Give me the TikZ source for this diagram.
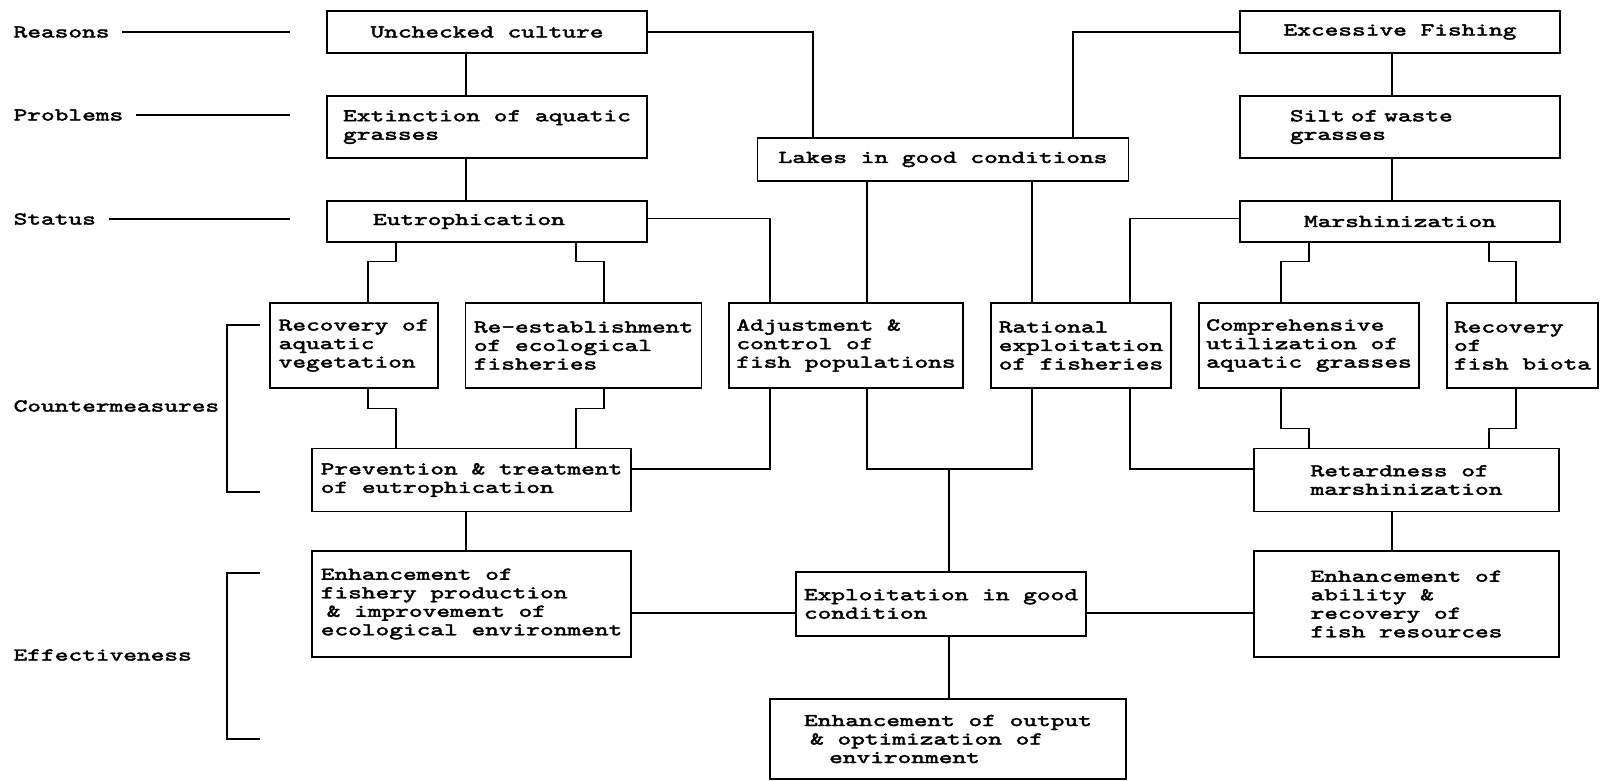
\documentclass[tikz,border=0pt]{standalone}
\usepackage{fontspec}
\newfontfamily\boxfont{lmmono10-regular.otf}[FakeStretch=1.45, FakeBold=2.5]
\newcommand{\boxtext}{\boxfont\fontsize{18}{18.5}\selectfont}

\begin{document}
\begin{tikzpicture}[x=1pt, y=-1pt, line width=1.3pt,
    box/.style={draw, inner sep=0pt, align=left, font=\boxtext},
    lbl/.style={anchor=west, inner sep=0pt, font=\boxtext}]

  \useasboundingbox (0,0) rectangle (1600,780);

  % Level labels on the left
  \foreach \n/\txt/\y in {lreas/Reasons/32, lprob/Problems/115, lstat/Status/219} {
    \node[lbl] (\n) at (13,\y) {\txt};
    \draw[shorten <=12pt] (\n.east) -- (\n.east -| 290,0);
  }
  \node[lbl] (lcount) at (13,406) {Countermeasures};
  \node[lbl] (leff) at (13,655) {Effectiveness};
  \draw (260,325) -| (227,492) -- (260,492);
  \draw (260,573) -| (227,739) -- (260,739);

  % Reasons, problems, status
  \node[box, minimum width=320, minimum height=42, align=center] (unchk) at (487,32) {Unchecked culture};
  \node[box, minimum width=320, minimum height=62] (ext) at (487,127) {Extinction of aquatic\\grasses};
  \node[box, minimum width=320, minimum height=41, inner xsep=46, text width=228] (eutro) at (487,221.5) {Eutrophication};
  \node[box, minimum width=320, minimum height=42, align=center] (exfish) at (1400,32) {Excessive Fishing};
  \node[box, minimum width=320, minimum height=62, inner xsep=50, text width=220] (silt) at (1400,127) {Silt of waste\\grasses};
  \node[box, minimum width=320, minimum height=41, align=center] (marsh) at (1400,221.5) {Marshinization};
  \node[box, minimum width=371, minimum height=43, align=center] (lakes) at (943,159.5) {Lakes in good conditions};

  % Countermeasures
  \node[box, minimum width=168, minimum height=85] (recov) at (354,345.5) {Recovery of\\aquatic\\vegetation};
  \node[box, minimum width=236, minimum height=85] (reest) at (583.5,345.5) {Re-establishment\\of ecological\\fisheries};
  \node[box, minimum width=234, minimum height=85] (adjust) at (846,345.5) {Adjustment \&\\control of\\fish populations};
  \node[box, minimum width=180, minimum height=85] (ration) at (1081,345.5) {Rational\\exploitation\\of fisheries};
  \node[box, minimum width=220, minimum height=85] (compre) at (1309,345.5) {Comprehensive\\utilization of\\aquatic grasses};
  \node[box, minimum width=151, minimum height=85] (fishbio) at (1522.5,345.5) {Recovery\\of\\fish biota};
  \node[box, minimum width=319, minimum height=63] (prevent) at (471.5,480) {Prevention \& treatment\\of eutrophication};
  \node[box, minimum width=305, minimum height=63] (retard) at (1406.5,480) {Retardness of\\marshinization};

  % Effectiveness
  \node[box, minimum width=319, minimum height=106] (enhfish) at (471.5,604) {Enhancement of\\fishery production\\\kern6pt\& improvement of\\ecological environment};
  \node[box, minimum width=290, minimum height=64] (exploit) at (941,604) {Exploitation in good\\condition};
  \node[box, minimum width=305, minimum height=106] (enhabil) at (1406.5,604) {Enhancement of\\ability \&\\recovery of\\fish resources};
  \node[box, minimum width=356, minimum height=80] (output) at (948,739) {Enhancement of output\\\kern6pt\& optimization of\\\kern25pt environment};

  \coordinate (mid) at (949,469);

  % Connectors, top part
  \draw (unchk.south -| 466,0) -- (ext.north -| 466,0);
  \draw (ext.south -| 466,0) -- (eutro.north -| 466,0);
  \draw (unchk.east) -| (lakes.north -| 813,0);
  \draw (exfish.west) -| (lakes.north -| 1073,0);
  \draw (exfish.south -| 1392,0) -- (silt.north -| 1392,0);
  \draw (silt.south -| 1392,0) -- (marsh.north -| 1392,0);

  % Status to countermeasures
  \draw (eutro.south -| 396,0) -- ++(0,19) -| (recov.north -| 368,0);
  \draw (eutro.south -| 576,0) -- ++(0,19) -| (reest.north -| 604,0);
  \draw ([yshift=3]eutro.east) -| (adjust.north -| 770,0);
  \draw (lakes.south -| 867,0) -- (adjust.north -| 867,0);
  \draw (lakes.south -| 1032,0) -- (ration.north -| 1032,0);
  \draw ([yshift=3]marsh.west) -| (ration.north -| 1130,0);
  \draw (marsh.south -| 1309,0) -- ++(0,19) -| (compre.north -| 1281,0);
  \draw (marsh.south -| 1489,0) -- ++(0,19) -| (fishbio.north -| 1516,0);

  % Countermeasures to combined measures
  \draw (recov.south -| 368,0) -- ++(0,20) -| (prevent.north -| 396,0);
  \draw (reest.south -| 604,0) -- ++(0,20) -| (prevent.north -| 576,0);
  \draw (prevent.east |- mid) -| (adjust.south -| 770,0);
  \draw (adjust.south -| 867,0) |- (mid) -| (ration.south -| 1032,0);
  \draw (ration.south -| 1130,0) |- (retard.west |- mid);
  \draw (compre.south -| 1281,0) -- ++(0,40) -| (retard.north -| 1309,0);
  \draw (fishbio.south -| 1516,0) -- ++(0,40) -| (retard.north -| 1489,0);

  % Effectiveness
  \draw (prevent.south -| 466,0) -- (enhfish.north -| 466,0);
  \draw (retard.south -| 1392,0) -- (enhabil.north -| 1392,0);
  \draw (mid) -- (exploit.north -| mid);
  \draw ([yshift=-9]enhfish.east) -- ([yshift=-9]exploit.west);
  \draw ([yshift=-9]exploit.east) -- ([yshift=-9]enhabil.west);
  \draw (exploit.south -| mid) -- (output.north -| mid);

\end{tikzpicture}
\end{document}
